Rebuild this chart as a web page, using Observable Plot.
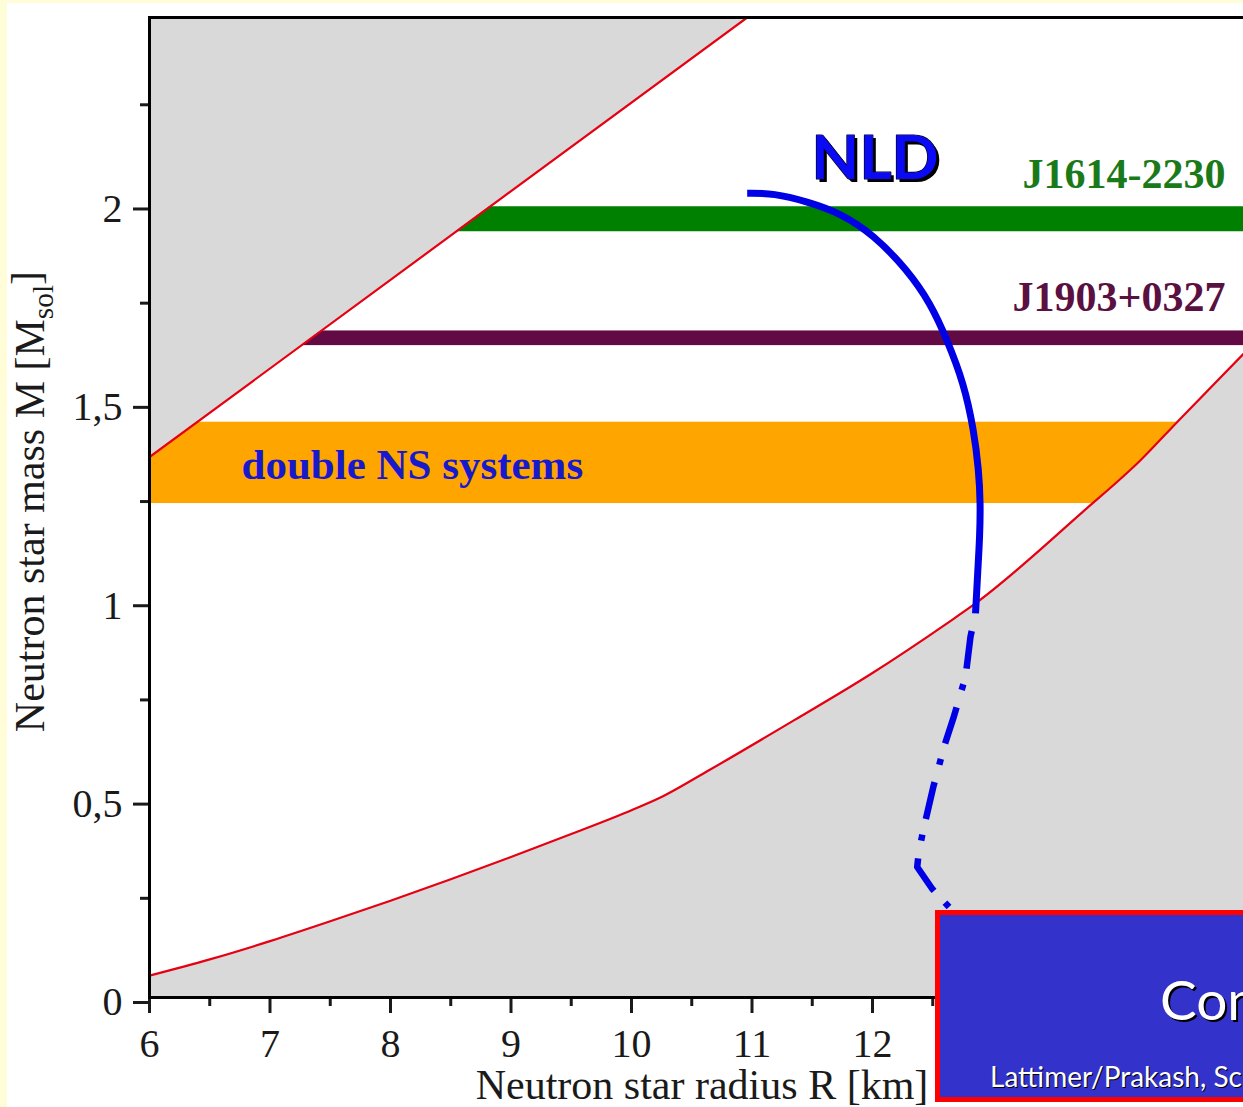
<!DOCTYPE html>
<html>
<head>
<meta charset="utf-8">
<script src="https://cdn.jsdelivr.net/npm/d3@7"></script>
<script src="https://cdn.jsdelivr.net/npm/@observablehq/plot@0.6"></script>
<style>
  html, body { margin: 0; padding: 0; }
  body { width: 1243px; height: 1107px; overflow: hidden; background: #fffdd7; position: relative; }
  #panel { position: absolute; left: 7px; top: 3px; width: 1400px; height: 1110px; background: #fff; }
  #panel svg { display: block; overflow: visible; }
  #note { position: absolute; left: 935px; top: 910px; width: 420px; height: 192px; box-sizing: border-box;
          border: 5px solid #f00; background: #3333cc; color: #fff;
          font-family: "Comic Sans MS", "Lato", sans-serif; white-space: nowrap; overflow: hidden; }
  #note .title { position: absolute; left: 220px; top: 57px; font-size: 55px; line-height: 1; text-shadow: 2px 2px 0 #000; }
  #note .ref { position: absolute; left: 50px; top: 147px; font-size: 28px; line-height: 1; text-shadow: 1px 1px 0 #000; }
</style>
</head>
<body>
<div id="panel"></div>
<div id="note"><div class="title">Compact stars</div><div class="ref">Lattimer/Prakash, Science 304 (2004) 536</div></div>
<script>
// Axis ticks (radius in km, mass in solar masses)
const radiusMajor = [6, 7, 8, 9, 10, 11, 12, 13, 14];
const radiusMinor = [6.5, 7.5, 8.5, 9.5, 10.5, 11.5, 12.5, 13.5, 14.5];
const massMajor = [0, 0.5, 1, 1.5, 2];
const massMinor = [0.25, 0.75, 1.25, 1.75, 2.25];
const massMax = 2.47;

// Measured mass bands
const bandNames = ["double NS systems", "J1903+0327", "J1614-2230"];
const bandLow = [1.245, 1.643, 1.930];
const bandHigh = [1.450, 1.680, 1.993];

// Causality limit (upper left excluded region)
const causalR = [6.0, 10.96];
const causalM = [1.362, 2.47];

// Lower limit curve (lower right excluded region)
const boundR = [6.0, 6.5, 7.0, 7.5, 8.0, 8.5, 9.0, 9.5, 10.0, 10.24, 10.65,
                11.351, 11.990, 12.628, 12.84, 13.745, 14.224, 14.543, 15.12];
const boundM = [0.055, 0.096, 0.142, 0.192, 0.244, 0.298, 0.354, 0.412, 0.472, 0.504, 0.574,
                0.699, 0.816, 0.945, 0.990, 1.224, 1.354, 1.455, 1.635];

// NLD mass-radius relation: stable branch and unstable low-mass branch
const nldR = [10.96, 11.181, 11.458, 11.734, 12.011, 12.288, 12.481, 12.620, 12.758, 12.841, 12.882, 12.896, 12.890, 12.874, 12.855];
const nldM = [2.027, 2.027, 2.006, 1.977, 1.922, 1.834, 1.750, 1.657, 1.548, 1.430, 1.329, 1.245, 1.161, 1.077, 0.968];
const nldLowR = [12.855, 12.813, 12.772, 12.670, 12.598, 12.504, 12.421, 12.384, 12.371, 12.495, 12.66];
const nldLowM = [0.968, 0.909, 0.808, 0.703, 0.636, 0.530, 0.421, 0.366, 0.329, 0.274, 0.22];

const bandColors = ["#ffa500", "#620a43", "#008000"];
const fmt = d => String(d).replace(".", ",");
const idx = a => d3.range(a.length);

const serif = "'Liberation Serif', 'Times New Roman', serif";
const comic = "'Comic Sans MS', Lato, sans-serif";

const chart = Plot.plot({
  width: 1357,
  height: 1104,
  marginLeft: 142,
  marginRight: 10,
  marginTop: 14,
  marginBottom: 110,
  x: {domain: [6, 16]},
  y: {domain: [0, massMax]},
  color: {type: "identity"},
  style: {fontFamily: serif, background: "transparent", overflow: "visible"},
  marks: [
    // mass bands
    Plot.rectY(idx(bandNames), {y1: i => bandLow[i], y2: i => bandHigh[i], fill: i => bandColors[i]}),
    // excluded regions
    Plot.areaY(idx(boundR), {x: i => boundR[i], y1: 0, y2: i => boundM[i], fill: "#d9d9d9", curve: "monotone-x", clip: true}),
    Plot.areaY(idx(causalR), {x: i => causalR[i], y1: i => causalM[i], y2: massMax, fill: "#d9d9d9", clip: true}),
    Plot.line(idx(boundR), {x: i => boundR[i], y: i => boundM[i], stroke: "#e60012", strokeWidth: 2.2, curve: "monotone-x", clip: true}),
    Plot.line(idx(causalR), {x: i => causalR[i], y: i => causalM[i], stroke: "#e60012", strokeWidth: 2.2, clip: true}),
    // NLD curve
    Plot.line(idx(nldR), {x: i => nldR[i], y: i => nldM[i], stroke: "#0000e6", strokeWidth: 7, curve: "basis", strokeLinecap: "butt"}),
    Plot.line(idx(nldLowR), {x: i => nldLowR[i], y: i => nldLowM[i], stroke: "#0000e6", strokeWidth: 6.5,
      strokeDasharray: "38,16,6,18", strokeDashoffset: 60, strokeLinecap: "butt"}),
    // labels
    Plot.text(["NLD"], {x: [nldR[0]], y: [nldM[0]], dx: 131, dy: -31, fill: "#000", fontSize: 62, fontWeight: "bold",
      fontFamily: comic, textAnchor: "middle"}),
    Plot.text(["NLD"], {x: [nldR[0]], y: [nldM[0]], dx: 128, dy: -34, fill: "#0a0af5", stroke: "#000", strokeWidth: 1.2,
      fontSize: 62, fontWeight: "bold", fontFamily: comic, textAnchor: "middle"}),
    Plot.text([bandNames[2]], {y: [bandHigh[2]], frameAnchor: "right", dx: -129, dy: -32, textAnchor: "end",
      fill: "#1a7a1a", fontSize: 42, fontWeight: "bold"}),
    Plot.text([bandNames[1]], {y: [bandHigh[1]], frameAnchor: "right", dx: -129, dy: -33, textAnchor: "end",
      fill: "#5a1040", fontSize: 42, fontWeight: "bold"}),
    Plot.text([bandNames[0]], {y: [(bandLow[0] + bandHigh[0]) / 2], frameAnchor: "left", dx: 92, dy: 2, textAnchor: "start",
      fill: "#1818cc", fontSize: 43, fontWeight: "bold"}),
    // axes
    Plot.axisX({ticks: radiusMajor, tickSize: 16, tickPadding: 15, tickFormat: fmt, fontSize: 40, strokeWidth: 3, label: null, color: "#1a1a1a"}),
    Plot.axisX({ticks: radiusMinor, tickSize: 9, tickFormat: () => "", strokeWidth: 3, label: null, color: "#1a1a1a"}),
    Plot.axisY({ticks: massMajor, tickSize: 16, tickPadding: 11, tickFormat: fmt, fontSize: 40, strokeWidth: 3, label: null, dy: 5, color: "#1a1a1a"}),
    Plot.axisY({ticks: massMinor, tickSize: 9, tickFormat: () => "", strokeWidth: 3, label: null, color: "#1a1a1a"}),
    Plot.text(["Neutron star radius R [km]"], {frameAnchor: "bottom", textAnchor: "middle", lineAnchor: "middle",
      dx: -50, dy: 88, fontSize: 42, fill: "#1a1a1a"}),
    Plot.text(["Neutron star mass M [Msol]"], {frameAnchor: "left", textAnchor: "middle", lineAnchor: "middle",
      rotate: -90, dx: -119, dy: -6, fontSize: 42, fill: "#1a1a1a"}),
    Plot.frame({stroke: "#000", strokeWidth: 3})
  ]
});

// subscript for the solar-mass unit
d3.select(chart).selectAll("text")
  .filter(function() { return this.textContent === "Neutron star mass M [Msol]"; })
  .each(function() {
    const t = d3.select(this);
    t.text(null);
    t.append("tspan").text("Neutron star mass M [M");
    t.append("tspan").attr("dy", "0.3em").attr("font-size", "70%").text("sol");
    t.append("tspan").attr("dy", "-0.3em").text("]");
  });

document.getElementById("panel").append(chart);
</script>
</body>
</html>
